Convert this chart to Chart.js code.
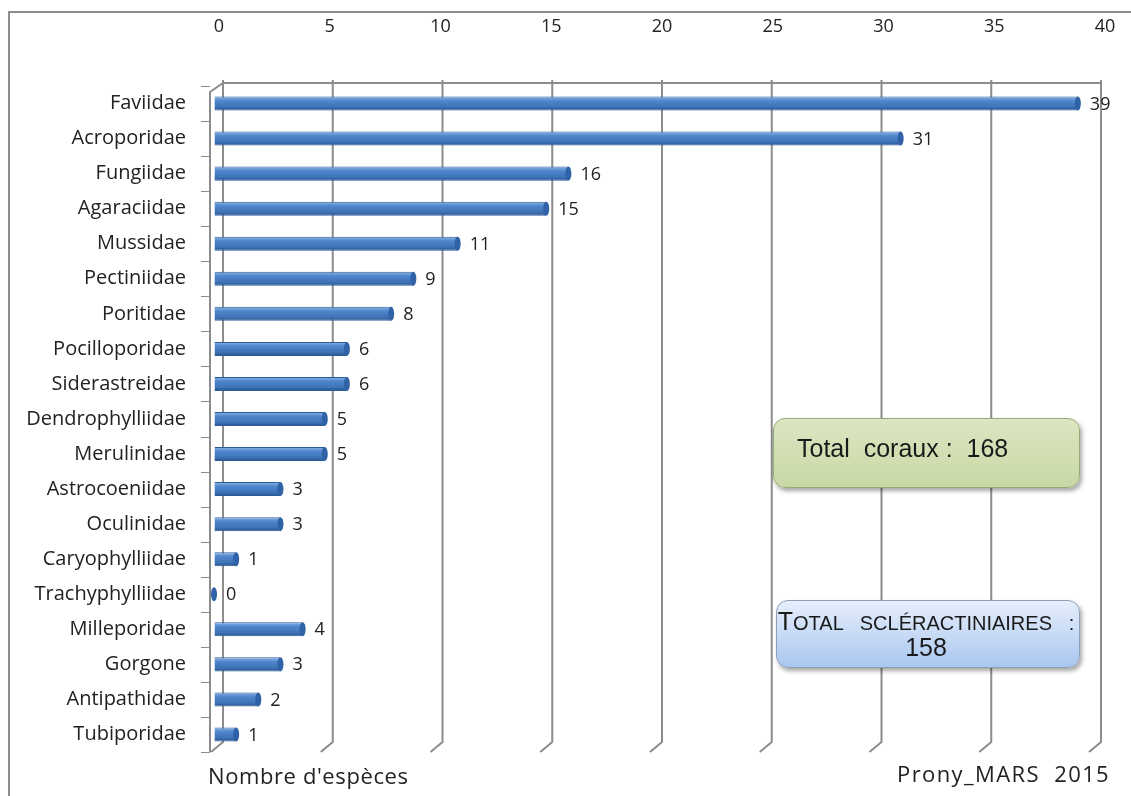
<!DOCTYPE html>
<html>
<head>
<meta charset="utf-8">
<script src="https://cdn.jsdelivr.net/npm/chart.js@4"></script>
<style>
body { margin: 0; background: #fff; }
#wrap { position: relative; width: 1131px; height: 796px; overflow: hidden; }
#frame { position: absolute; left: 8px; top: 11px; width: 1200px; height: 900px; border: 2px solid #8c8c8c; }
canvas { position: absolute; left: 0; top: 0; }
.note { position: absolute; font-family: "Open Sans", sans-serif; font-size: 22px; color: #222; white-space: pre; }
.box { position: absolute; border-radius: 12px; font-family: "Liberation Sans", Arial, sans-serif; color: #1a1a1a;
       box-shadow: 2px 3px 4px rgba(0,0,0,0.35); }
#green { left: 773px; top: 418px; width: 305px; height: 68px; border: 1px solid #98a878;
         background: linear-gradient(#dbe6c2, #c8d8a4); font-size: 25px; }
#green span { position: absolute; left: 23px; top: 15px; white-space: pre; }
#blue { left: 776px; top: 600px; width: 302px; height: 66px; border: 1px solid #8e9fb8;
        background: linear-gradient(#e6eefb, #a9c7f0); text-align: center; line-height: 24px; }
#blue div { padding-top: 8px; white-space: pre; font-size: 20px; margin-left: -4px; }
#blue .big { font-size: 25px; }
</style>
</head>
<body>
<div id="wrap">
  <div id="frame"></div>
  <canvas id="chart" width="1131" height="796"></canvas>
  <div class="note" style="left:208px; top:760px; letter-spacing:0.6px;">Nombre d'espèces</div>
  <div class="note" style="left:897px; top:758px; letter-spacing:1.4px;">Prony_MARS  2015</div>
  <div class="box" id="green"><span>Total  coraux :  168</span></div>
  <div class="box" id="blue"><div><span class="big">T</span>OTAL   SCLÉRACTINIAIRES   :<br><span class="big">158</span></div></div>
</div>
<script>
var families = ['Faviidae', 'Acroporidae', 'Fungiidae', 'Agaraciidae', 'Mussidae', 'Pectiniidae',
	'Poritidae', 'Pocilloporidae', 'Siderastreidae', 'Dendrophylliidae', 'Merulinidae',
	'Astrocoeniidae', 'Oculinidae', 'Caryophylliidae', 'Trachyphylliidae', 'Milleporidae',
	'Gorgone', 'Antipathidae', 'Tubiporidae'];
var especes = [39, 31, 16, 15, 11, 9, 8, 6, 6, 5, 5, 3, 3, 1, 0, 4, 3, 2, 1];
var ticksX = [0, 5, 10, 15, 20, 25, 30, 35, 40];

var lineColor = '#8c8c8c';

// gradient "cylindre" pour chaque barre
function barGradient(context) {
	var chart = context.chart;
	var yScale = chart.scales.y;
	if (!yScale || context.dataIndex === undefined) return '#4a7ebf';
	var y = yScale.getPixelForValue(context.dataIndex);
	if (!isFinite(y)) return '#4a7ebf';
	var g = chart.ctx.createLinearGradient(0, y - 7, 0, y + 7);
	g.addColorStop(0, '#8fb4e6');
	g.addColorStop(0.3, '#4f86cc');
	g.addColorStop(0.75, '#3f72b6');
	g.addColorStop(1, '#23508c');
	return g;
}

const ctx = document.getElementById('chart');
const chart = new Chart(ctx, {
	type: 'bar',
	data: {
		labels: families,
		datasets: [{
			label: "Nombre d'espèces",
			data: especes,
			backgroundColor: barGradient,
			borderColor: '#2d5d99',
			borderWidth: 1,
			barPercentage: 0.4,
			categoryPercentage: 1
		}]
	},
	options: {
		indexAxis: 'y',
		responsive: false,
		animation: false,
		layout: { padding: { top: 14, right: 31, bottom: 44, left: 0 } },
		scales: {
			x: {
				position: 'top',
				min: 0,
				max: 40,
				afterFit: function(scale) { scale.height = 72; },
				afterBuildTicks: function(scale) {
					scale.ticks = ticksX.map(function(v) { return { value: v }; });
				},
				// graduations invisibles : elles servent juste à remonter les libellés
				grid: { drawOnChartArea: false, drawTicks: true, tickLength: 48, color: 'rgba(0,0,0,0)' },
				border: { display: false },
				ticks: { padding: 0, labelOffset: 5, maxRotation: 0, minRotation: 0,
					color: '#222', font: { family: 'Open Sans', size: 18 } }
			},
			y: {
				afterFit: function(scale) { scale.width = 214; },
				grid: { display: false, drawTicks: false },
				border: { display: false },
				ticks: { padding: 28, color: '#222', font: { family: 'Open Sans', size: 20 } }
			}
		},
		plugins: {
			legend: { display: false },
			tooltip: { enabled: false }
		}
	},
	plugins: [{
		// parois en perspective : lignes de grille, bord avant, plancher
		beforeDatasetsDraw: function(chart) {
			var ctx = chart.ctx;
			var xs = chart.scales.x;
			var ys = chart.scales.y;
			var area = chart.chartArea;
			var top = area.top, bottom = area.bottom, left = area.left;
			ctx.save();
			ctx.strokeStyle = lineColor;
			ctx.lineWidth = 2;
			ctx.lineJoin = 'miter';
			ticksX.forEach(function(v) {
				var x = xs.getPixelForValue(v) + 9 - 8 * v / 40;
				ctx.beginPath();
				ctx.moveTo(x, top - 6);
				ctx.lineTo(x, bottom - 10);
				ctx.lineTo(x - 12, bottom);
				ctx.stroke();
			});
			// arête du haut
			ctx.beginPath();
			ctx.moveTo(xs.getPixelForValue(40) + 1, top - 3);
			ctx.lineTo(left + 9, top - 3);
			ctx.lineTo(left - 4, top + 6);
			ctx.lineTo(left - 4, bottom);
			ctx.stroke();
			// petites graduations de l'axe des familles
			ctx.lineWidth = 1;
			var band = ys.getPixelForValue(1) - ys.getPixelForValue(0);
			for (var i = 0; i <= families.length; i++) {
				var y = Math.round(ys.getPixelForValue(i) - band / 2) + 0.5;
				ctx.beginPath();
				ctx.moveTo(left - 13, y);
				ctx.lineTo(left - 4, y);
				ctx.stroke();
			}
			ctx.restore();
		},
		afterDatasetsDraw: function(chart) {
			var ctx = chart.ctx;
			var meta = chart.getDatasetMeta(0);
			ctx.save();
			meta.data.forEach(function(bar, index) {
				var h = bar.height;
				// bout du cylindre
				ctx.beginPath();
				ctx.ellipse(bar.x, bar.y, 3, h / 2, 0, 0, Math.PI * 2);
				ctx.fillStyle = '#2f62a6';
				ctx.fill();
				// valeur
				ctx.fillStyle = '#222';
				ctx.font = '18px "Open Sans"';
				ctx.textAlign = 'left';
				ctx.textBaseline = 'middle';
				ctx.fillText(especes[index].toString(), bar.x + 12, bar.y + 1);
			});
			ctx.restore();
		}
	}]
});
</script>
</body>
</html>
